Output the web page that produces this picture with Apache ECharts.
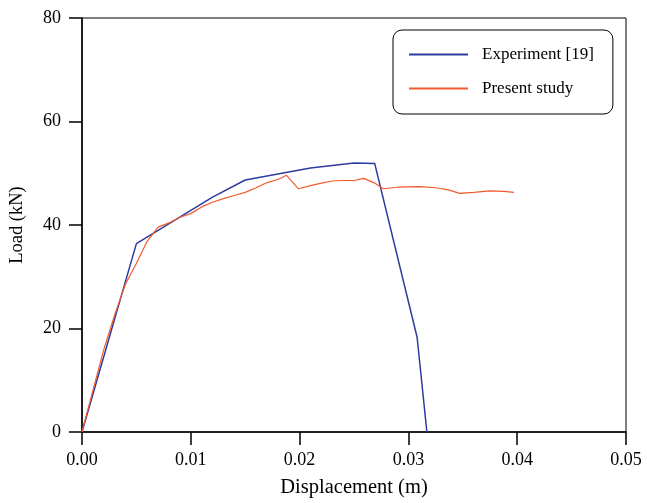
<!DOCTYPE html>
<html>
<head>
<meta charset="utf-8">
<script src="https://cdn.jsdelivr.net/npm/echarts@6/dist/echarts.min.js"></script>
<style>
  html, body { margin: 0; padding: 0; background: #fff; }
  #chart { width: 647px; height: 503px; }
</style>
</head>
<body>
<div id="chart"></div>
<script>
// Load–displacement curves (displacement in m, load in kN)
const experimentDisp = [0, 0.005, 0.012, 0.015, 0.021, 0.025, 0.0269, 0.0308, 0.0317];
const experimentLoad = [0, 36.4, 45.4, 48.7, 51.0, 52.0, 51.9, 18.3, 0];

const presentDisp = [0, 0.001, 0.002, 0.003, 0.004, 0.005, 0.006, 0.007, 0.008, 0.009,
  0.010, 0.011, 0.012, 0.013, 0.014, 0.015, 0.016, 0.017, 0.018, 0.0188,
  0.0199, 0.021, 0.022, 0.023, 0.024, 0.025, 0.0259, 0.0269, 0.0277, 0.029,
  0.031, 0.0325, 0.0337, 0.0347, 0.036, 0.0375, 0.0388, 0.0397];
const presentLoad = [0, 8.0, 15.9, 22.6, 28.6, 32.6, 36.9, 39.6, 40.4, 41.5,
  42.2, 43.5, 44.4, 45.1, 45.7, 46.3, 47.2, 48.2, 48.8, 49.6,
  47.0, 47.6, 48.1, 48.5, 48.6, 48.6, 49.0, 48.1, 47.0, 47.3,
  47.4, 47.2, 46.8, 46.1, 46.3, 46.6, 46.5, 46.3];

const xTicks = { min: 0, max: 0.05, interval: 0.01 };
const yTicks = { min: 0, max: 80, interval: 20 };

const seriesNames = ['Experiment [19]', 'Present study'];
const seriesColors = ['#2e3a9e', '#f2592d'];

const zip = (xs, ys) => xs.map((x, i) => [x, ys[i]]);
const font = '"Liberation Serif", "DejaVu Serif", serif';

const chart = echarts.init(document.getElementById('chart'), null, { renderer: 'canvas' });
chart.setOption({
  animation: false,
  backgroundColor: '#fff',
  textStyle: { fontFamily: font, color: '#000' },
  grid: {
    left: 82, right: 21, top: 18, bottom: 70,
    show: true, borderColor: '#000', borderWidth: 1
  },
  legend: {
    orient: 'vertical',
    left: 393, top: 30,
    padding: [16, 19, 17, 16],
    borderColor: '#000', borderWidth: 1, borderRadius: 9,
    itemWidth: 59, itemHeight: 2, itemGap: 17,
    icon: 'rect',
    textStyle: { fontFamily: font, fontSize: 17, color: '#000', padding: [0, 0, 0, 9] },
    data: seriesNames
  },
  xAxis: {
    type: 'value',
    min: xTicks.min, max: xTicks.max, interval: xTicks.interval,
    name: 'Displacement (m)', nameLocation: 'middle', nameGap: 45,
    nameTextStyle: { fontFamily: font, fontSize: 20.5, color: '#000' },
    axisLine: { show: true, onZero: false, lineStyle: { color: '#000', width: 1.5 } },
    axisTick: { show: true, inside: false, length: 13, lineStyle: { color: '#000', width: 1.5 } },
    axisLabel: { fontFamily: font, fontSize: 18, color: '#000', margin: 19,
      formatter: v => v.toFixed(2) },
    splitLine: { show: false }
  },
  yAxis: {
    type: 'value',
    min: yTicks.min, max: yTicks.max, interval: yTicks.interval,
    name: 'Load (kN)', nameLocation: 'middle', nameGap: 55,
    nameTextStyle: { fontFamily: font, fontSize: 18.5, color: '#000' },
    axisLine: { show: true, onZero: false, lineStyle: { color: '#000', width: 1.5 } },
    axisTick: { show: true, inside: false, length: 13, lineStyle: { color: '#000', width: 1.5 } },
    axisLabel: { fontFamily: font, fontSize: 18, color: '#000', margin: 21 },
    splitLine: { show: false }
  },
  series: [
    {
      name: seriesNames[0], type: 'line', showSymbol: false, symbol: 'none',
      data: zip(experimentDisp, experimentLoad),
      lineStyle: { color: seriesColors[0], width: 1.5 },
      itemStyle: { color: seriesColors[0] }
    },
    {
      name: seriesNames[1], type: 'line', showSymbol: false, symbol: 'none',
      data: zip(presentDisp, presentLoad),
      lineStyle: { color: seriesColors[1], width: 1.2 },
      itemStyle: { color: seriesColors[1] }
    }
  ]
});
</script>
</body>
</html>
